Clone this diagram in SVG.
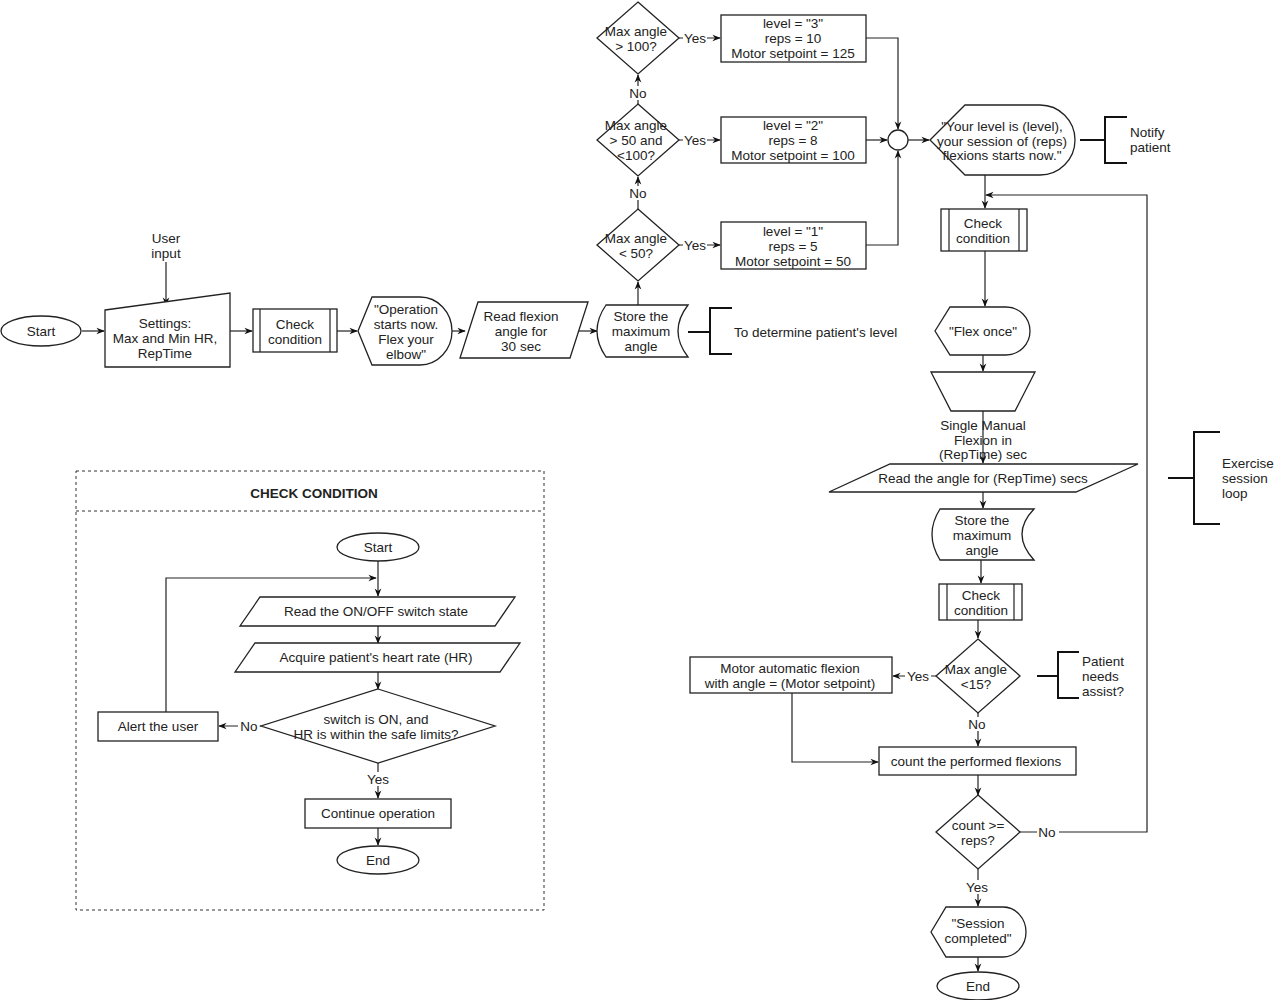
<svg xmlns="http://www.w3.org/2000/svg" width="1283" height="1000" viewBox="0 0 1283 1000">
<defs>
<marker id="a" viewBox="0 0 10 10" refX="9" refY="5" markerWidth="7" markerHeight="7" orient="auto"><path d="M0,1 L10,5 L0,9 L3,5 Z" fill="#111"/></marker>
<style>
.s{fill:#fff;stroke:#222;stroke-width:1.3}
.c{fill:none;stroke:#222;stroke-width:1.2}
.b{fill:none;stroke:#111;stroke-width:2}
text{font-family:"Liberation Sans",Arial,sans-serif;font-size:13.5px;fill:#222;text-anchor:middle}
.l{text-anchor:start}
.lb{font-size:12.5px;fill:#222}
</style>
</defs>
<rect width="1283" height="1000" fill="#fff"/>
<g id="connectors">
<path class="c" d="M166,262V305" marker-end="url(#a)"/>
<path class="c" d="M82,331H104" marker-end="url(#a)"/>
<path class="c" d="M230,331H252" marker-end="url(#a)"/>
<path class="c" d="M337,331H357" marker-end="url(#a)"/>
<path class="c" d="M452,331H465" marker-end="url(#a)"/>
<path class="c" d="M579,331H597" marker-end="url(#a)"/>
<path class="c" d="M638,305V282" marker-end="url(#a)"/>
<path class="c" d="M638,209V177" marker-end="url(#a)"/>
<path class="c" d="M638,104V75" marker-end="url(#a)"/>
<path class="c" d="M679,38H720" marker-end="url(#a)"/>
<path class="c" d="M679,140H720" marker-end="url(#a)"/>
<path class="c" d="M679,245H720" marker-end="url(#a)"/>
<path class="c" d="M866,38H898V129" marker-end="url(#a)"/>
<path class="c" d="M866,140H887" marker-end="url(#a)"/>
<path class="c" d="M866,245H898V151" marker-end="url(#a)"/>
<path class="c" d="M908,140H929" marker-end="url(#a)"/>
<path class="c" d="M985,175V208" marker-end="url(#a)"/>
<path class="c" d="M1020,832H1147V195H986" marker-end="url(#a)"/>
<path class="c" d="M985,251V306" marker-end="url(#a)"/>
<path class="c" d="M983,355V371" marker-end="url(#a)"/>
<path class="c" d="M983,411V463" marker-end="url(#a)"/>
<path class="c" d="M983,492V508" marker-end="url(#a)"/>
<path class="c" d="M981,560V583" marker-end="url(#a)"/>
<path class="c" d="M978,620V638" marker-end="url(#a)"/>
<path class="c" d="M936,676H893" marker-end="url(#a)"/>
<path class="c" d="M978,713V746" marker-end="url(#a)"/>
<path class="c" d="M792,693V762H878" marker-end="url(#a)"/>
<path class="c" d="M978,775V795" marker-end="url(#a)"/>
<path class="c" d="M978,869V906" marker-end="url(#a)"/>
<path class="c" d="M978,957V971" marker-end="url(#a)"/>
<path class="c" d="M378,561V596" marker-end="url(#a)"/>
<path class="c" d="M166,713V578H376" marker-end="url(#a)"/>
<path class="c" d="M378,626V643" marker-end="url(#a)"/>
<path class="c" d="M378,672V689" marker-end="url(#a)"/>
<path class="c" d="M261,726H219" marker-end="url(#a)"/>
<path class="c" d="M378,763V798" marker-end="url(#a)"/>
<path class="c" d="M378,828V845" marker-end="url(#a)"/>
<path class="b" d="M688,332H710M732,308H710V354H732"/>
<path class="b" d="M1080,140H1105M1127,117H1105V163H1127"/>
<path class="b" d="M1037,676H1058M1079,652H1058V698H1079"/>
<path class="b" d="M1168,478H1194M1220,432H1194V524H1220"/>
<g font-size="13">
<rect x="683" y="31" width="24" height="14" fill="#fff"/><text x="695" y="43">Yes</text>
<rect x="683" y="133" width="24" height="14" fill="#fff"/><text x="695" y="145">Yes</text>
<rect x="683" y="238" width="24" height="14" fill="#fff"/><text x="695" y="250">Yes</text>
<rect x="627" y="86" width="22" height="14" fill="#fff"/><text x="638" y="98">No</text>
<rect x="627" y="186" width="22" height="14" fill="#fff"/><text x="638" y="198">No</text>
<rect x="905" y="669" width="26" height="14" fill="#fff"/><text x="918" y="681">Yes</text>
<rect x="966" y="717" width="22" height="14" fill="#fff"/><text x="977" y="729">No</text>
<rect x="1037" y="825" width="22" height="14" fill="#fff"/><text x="1047" y="837">No</text>
<rect x="963" y="880" width="28" height="14" fill="#fff"/><text x="977" y="892">Yes</text>
<rect x="238" y="719" width="22" height="14" fill="#fff"/><text x="249" y="731">No</text>
<rect x="364" y="772" width="28" height="14" fill="#fff"/><text x="378" y="784">Yes</text>
</g>
</g>
<g id="user-input"><text x="166" y="243">User</text><text x="166" y="258">input</text></g>
<g id="start"><ellipse class="s" cx="41" cy="331" rx="40" ry="15"/><text x="41" y="336">Start</text></g>
<g id="settings"><path class="s" d="M105,310L230,293V367H105Z"/><text x="165" y="328">Settings:</text><text x="165" y="343">Max and Min HR,</text><text x="165" y="358">RepTime</text></g>
<g id="check1"><rect class="s" x="253" y="309" width="84" height="43"/><path class="c" d="M260,309V352M330,309V352"/><text x="295" y="329">Check</text><text x="295" y="344">condition</text></g>
<g id="operation"><path class="s" d="M358,331L372,297H420A32,34 0 0 1 420,365H372Z"/><text x="406" y="314">"Operation</text><text x="406" y="329">starts now.</text><text x="406" y="344">Flex your</text><text x="406" y="359">elbow"</text></g>
<g id="read-flexion"><path class="s" d="M478,302H588L570,358H460Z"/><text x="521" y="321">Read flexion</text><text x="521" y="336">angle for</text><text x="521" y="351">30 sec</text></g>
<g id="store1"><path class="s" d="M606,305H688Q668,331 688,357H606Q588,331 606,305Z"/><text x="641" y="321">Store the</text><text x="641" y="336">maximum</text><text x="641" y="351">angle</text></g>
<text class="l" x="734" y="337">To determine patient's level</text>
<g id="d1"><path class="s" d="M638,209L679,245L638,281L597,245Z"/><text x="636" y="243">Max angle</text><text x="636" y="258">&lt; 50?</text></g>
<g id="d2"><path class="s" d="M638,104L679,140L638,176L597,140Z"/><text x="636" y="130">Max angle</text><text x="636" y="145">&gt; 50 and</text><text x="636" y="160">&lt;100?</text></g>
<g id="d3"><path class="s" d="M638,2L679,38L638,74L597,38Z"/><text x="636" y="36">Max angle</text><text x="636" y="51">&gt; 100?</text></g>
<g id="box3"><rect class="s" x="721" y="15" width="145" height="47"/><text x="793" y="28">level = "3"</text><text x="793" y="43">reps = 10</text><text x="793" y="58">Motor setpoint = 125</text></g>
<g id="box2"><rect class="s" x="721" y="117" width="145" height="46"/><text x="793" y="130">level = "2"</text><text x="793" y="145">reps = 8</text><text x="793" y="160">Motor setpoint = 100</text></g>
<g id="box1"><rect class="s" x="721" y="222" width="145" height="47"/><text x="793" y="236">level = "1"</text><text x="793" y="251">reps = 5</text><text x="793" y="266">Motor setpoint = 50</text></g>
<g id="junction"><circle class="s" cx="898" cy="140" r="10"/></g>
<g id="notify"><path class="s" d="M930,140L965,105H1040A35,35 0 0 1 1040,175H965Z"/><text x="1002" y="131" font-size="12.5">"Your level is (level),</text><text x="1002" y="146" font-size="12.5">your session of (reps)</text><text x="1002" y="160" font-size="12.5">flexions starts now."</text></g>
<text class="l" x="1130" y="137">Notify</text><text class="l" x="1130" y="152">patient</text>
<g id="check2"><rect class="s" x="941" y="209" width="86" height="42"/><path class="c" d="M949,209V251M1019,209V251"/><text x="983" y="228">Check</text><text x="983" y="243">condition</text></g>
<g id="flex-once"><path class="s" d="M935,331L950,307H1006A24,24 0 0 1 1006,355H950Z"/><text x="983" y="336">"Flex once"</text></g>
<g id="manual"><path class="s" d="M931,372H1035L1015,411H951Z"/><text x="983" y="430">Single   Manual</text><text x="983" y="445">Flexion in</text><text x="983" y="459">(RepTime) sec</text></g>
<g id="read-angle"><path class="s" d="M890,464H1138L1076,492H829Z"/><text x="983" y="483">Read the angle for (RepTime) secs</text></g>
<g id="store2"><path class="s" d="M940,509H1034Q1010,534 1034,560H940Q924,534 940,509Z"/><text x="982" y="525">Store the</text><text x="982" y="540">maximum</text><text x="982" y="555">angle</text></g>
<g id="check3"><rect class="s" x="939" y="584" width="83" height="36"/><path class="c" d="M947,584V620M1014,584V620"/><text x="981" y="600">Check</text><text x="981" y="615">condition</text></g>
<g id="d4"><path class="s" d="M978,639L1020,676L978,713L936,676Z"/><text x="976" y="674">Max angle</text><text x="976" y="689">&lt;15?</text></g>
<text class="l" x="1082" y="666">Patient</text><text class="l" x="1082" y="681">needs</text><text class="l" x="1082" y="696">assist?</text>
<g id="motor"><rect class="s" x="690" y="657" width="202" height="36"/><text x="790" y="673">Motor automatic flexion</text><text x="790" y="688">with angle = (Motor setpoint)</text></g>
<g id="count"><rect class="s" x="879" y="747" width="197" height="28"/><text x="976" y="766">count the performed flexions</text></g>
<g id="d5"><path class="s" d="M978,795L1020,832L978,869L936,832Z"/><text x="978" y="830">count &gt;=</text><text x="978" y="845">reps?</text></g>
<g id="session-completed"><path class="s" d="M931,932L946,907H1003A23,25 0 0 1 1003,957H946Z"/><text x="978" y="928">"Session</text><text x="978" y="943">completed"</text></g>
<g id="end"><ellipse class="s" cx="978" cy="986" rx="41" ry="14"/><text x="978" y="991">End</text></g>
<text class="l" x="1222" y="468">Exercise</text><text class="l" x="1222" y="483">session</text><text class="l" x="1222" y="498">loop</text>
<g id="panel">
<rect x="76" y="471" width="468" height="439" fill="none" stroke="#333" stroke-dasharray="3,3"/>
<path d="M76,511H544" stroke="#333" stroke-dasharray="3,3"/>
<text x="314" y="498" font-weight="bold" font-size="12.5">CHECK CONDITION</text>
</g>
<g id="p-start"><ellipse class="s" cx="378" cy="547" rx="41" ry="14"/><text x="378" y="552">Start</text></g>
<g id="p-read"><path class="s" d="M260,597H515L495,626H240Z"/><text x="376" y="616">Read the ON/OFF switch state</text></g>
<g id="p-hr"><path class="s" d="M255,643H520L500,672H235Z"/><text x="376" y="662">Acquire patient's heart rate (HR)</text></g>
<g id="p-d"><path class="s" d="M378,689L495,726L378,763L261,726Z"/><text x="376" y="724">switch is ON, and</text><text x="376" y="739">HR is within the safe limits?</text></g>
<g id="p-alert"><rect class="s" x="98" y="712" width="120" height="29"/><text x="158" y="731">Alert the user</text></g>
<g id="p-continue"><rect class="s" x="305" y="799" width="146" height="29"/><text x="378" y="818">Continue operation</text></g>
<g id="p-end"><ellipse class="s" cx="378" cy="860" rx="41" ry="14"/><text x="378" y="865">End</text></g>
</svg>
